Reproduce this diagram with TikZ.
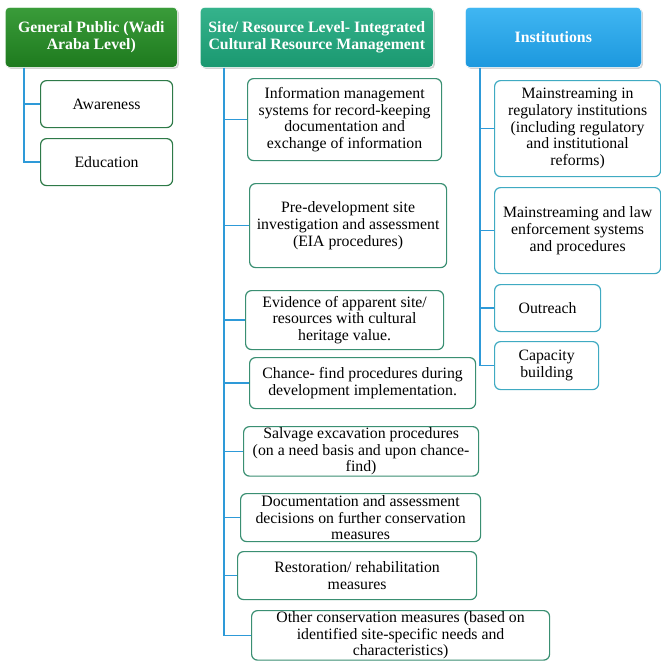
\documentclass[tikz,border=0pt]{standalone}
\usepackage{fontspec}
\setmainfont{Liberation Serif}
\usetikzlibrary{positioning,shadows}

\definecolor{gpTop}{HTML}{3A9C3A}
\definecolor{gpBot}{HTML}{1E7A1E}
\definecolor{siteTop}{HTML}{35B38C}
\definecolor{siteBot}{HTML}{1A9870}
\definecolor{instTop}{HTML}{40B6F2}
\definecolor{instBot}{HTML}{1C98DE}
\definecolor{gpEdge}{HTML}{2E7A48}
\definecolor{siteEdge}{HTML}{3A8F72}
\definecolor{instEdge}{HTML}{3FAAC2}
\definecolor{linkBlue}{HTML}{2E9AD8}

\begin{document}
\begin{tikzpicture}[x=1pt,y=-1pt,
  font=\fontsize{15.8}{16.6}\selectfont,
  head/.style={anchor=north west, rounded corners=4pt, draw=white, line width=0.6pt,
    align=center, text=white, font=\fontsize{15.8}{17}\selectfont\bfseries,
    inner sep=2pt, drop shadow={opacity=0.35, shadow xshift=1.5pt, shadow yshift=-1.5pt}},
  leaf/.style={anchor=north west, rounded corners=6pt, fill=white, line width=1.2pt,
    align=center, inner sep=1pt},
  gpleaf/.style={leaf, draw=gpEdge},
  siteleaf/.style={leaf, draw=siteEdge},
  instleaf/.style={leaf, draw=instEdge},
  link/.style={draw=linkBlue, line width=1.6pt}]
\useasboundingbox (0,0) rectangle (661,662);

% column headers
\node[head, top color=gpTop, bottom color=gpBot, minimum width=172, minimum height=60]
  (gp) at (5,7) {General Public (Wadi\\Araba Level)};
\node[head, top color=siteTop, bottom color=siteBot, minimum width=233, minimum height=60]
  (site) at (200,7) {Site/ Resource Level- Integrated\\Cultural Resource Management};
\node[head, top color=instTop, bottom color=instBot, minimum width=176, minimum height=60]
  (inst) at (465,7) {Institutions};

% general public
\node[gpleaf, minimum width=132, minimum height=47] (aware) at (40,80) {Awareness};
\node[gpleaf, minimum width=132, minimum height=47] (edu) at (40,138) {Education};

% site / resource level
\node[siteleaf, minimum width=194, minimum height=82] (info) at (247,78)
  {Information management\\systems for record-keeping\\documentation and\\exchange of information};
\node[siteleaf, minimum width=197, minimum height=84] (predev) at (249,183)
  {Pre-development site\\investigation and assessment\\(EIA procedures)};
\node[siteleaf, minimum width=198, minimum height=59] (evid) at (245,290)
  {Evidence of apparent site/\\resources with cultural\\heritage value.};
\node[siteleaf, minimum width=226, minimum height=51] (chance) at (249,357)
  {Chance- find procedures during\\development implementation.};
\node[siteleaf, minimum width=235, minimum height=48] (salv) at (243,426)
  {Salvage excavation procedures\\(on a need basis and upon chance-\\find)};
\node[siteleaf, minimum width=240, minimum height=48] (docu) at (240,493)
  {Documentation and assessment\\decisions on further conservation\\measures};
\node[siteleaf, minimum width=239, minimum height=48] (resto) at (237,551)
  {Restoration/ rehabilitation\\measures};
\node[siteleaf, minimum width=298, minimum height=48] (other) at (251,610)
  {Other conservation measures (based on\\identified site-specific needs and\\characteristics)};

% institutions
\node[instleaf, minimum width=166, minimum height=96] (regul) at (494,80)
  {Mainstreaming in\\regulatory institutions\\(including regulatory\\and institutional\\reforms)};
\node[instleaf, minimum width=166, minimum height=86] (law) at (494,187)
  {Mainstreaming and law\\enforcement systems\\and procedures};
\node[instleaf, minimum width=106, minimum height=47] (outr) at (494,284) {Outreach};
\node[instleaf, minimum width=104, minimum height=48] (capa) at (494,341)
  {Capacity\\building};

% connectors
\coordinate (gpx) at ([xshift=19pt]gp.south west);
\coordinate (sitex) at ([xshift=24pt]site.south west);
\coordinate (instx) at ([xshift=15pt]inst.south west);

\draw[link] (gpx) |- (edu.west);
\draw[link] (gpx |- aware.west) -- (aware.west);

\draw[link] (sitex) |- (other.west);
\draw[link] (sitex |- info.west) -- (info.west);
\draw[link] (sitex |- predev.west) -- (predev.west);
\draw[link] (sitex |- evid.west) -- (evid.west);
\draw[link] (sitex |- chance.west) -- (chance.west);
\draw[link] (sitex |- salv.west) -- (salv.west);
\draw[link] (sitex |- docu.west) -- (docu.west);
\draw[link] (sitex |- resto.west) -- (resto.west);

\draw[link] (instx) |- (capa.west);
\draw[link] (instx |- regul.west) -- (regul.west);
\draw[link] (instx |- law.west) -- (law.west);
\draw[link] (instx |- outr.west) -- (outr.west);
\end{tikzpicture}
\end{document}
